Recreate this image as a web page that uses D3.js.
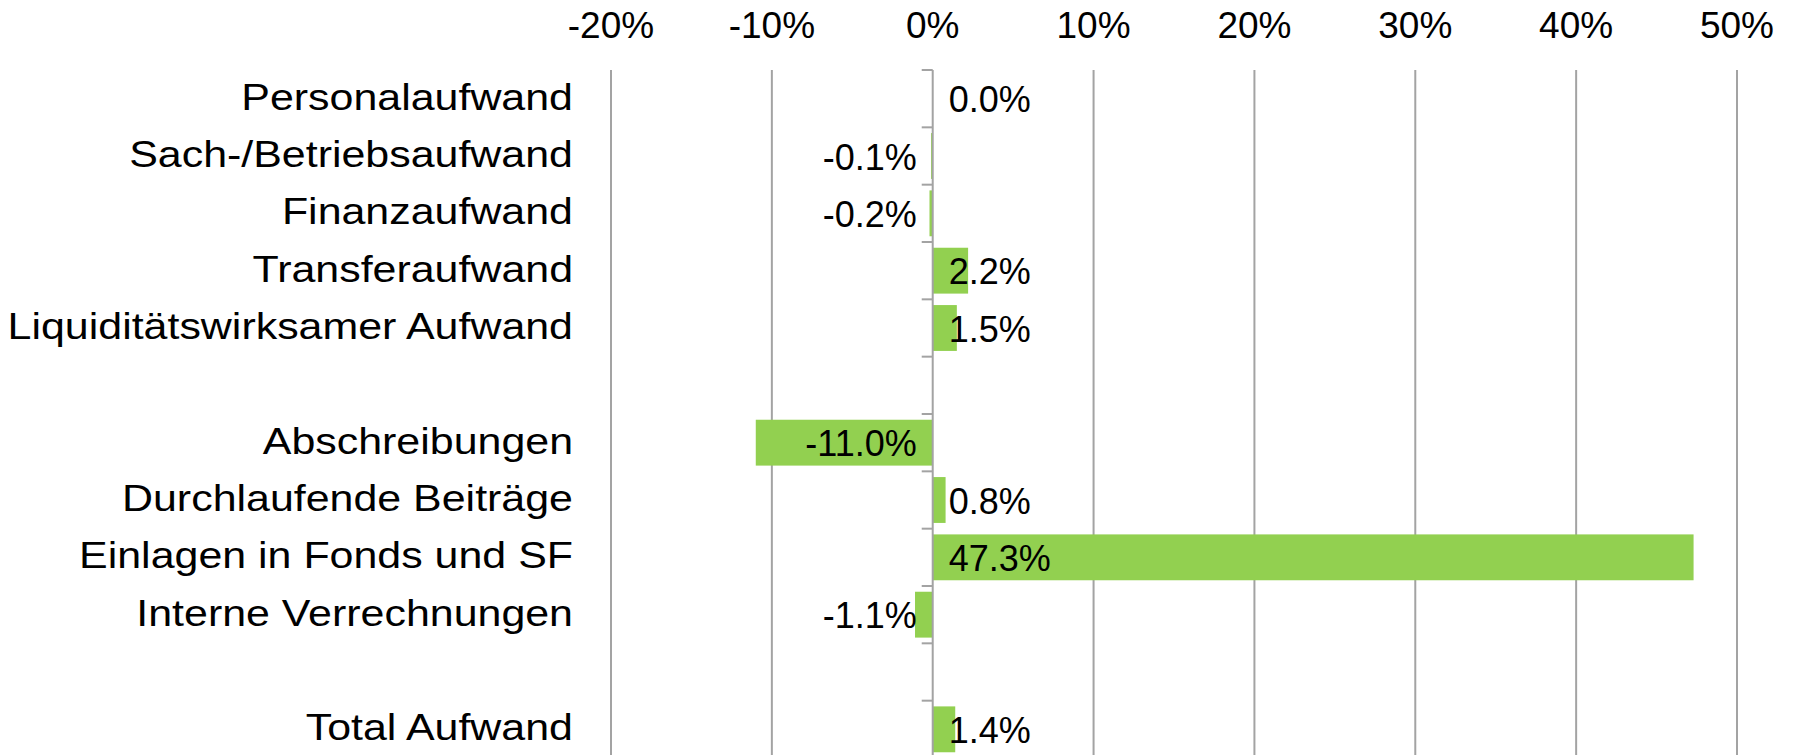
<!DOCTYPE html>
<html>
<head>
<meta charset="utf-8">
<script src="https://cdn.jsdelivr.net/npm/d3@7"></script>
<style>
  body { margin: 0; background: #ffffff; }
  svg { display: block; }
  text { font-family: "Liberation Sans", Arial, sans-serif; fill: #000000; }
</style>
</head>
<body>
<div id="chart"></div>
<script>
// categories (empty strings are the gaps between groups)
const categories = [
  "Personalaufwand",
  "Sach-/Betriebsaufwand",
  "Finanzaufwand",
  "Transferaufwand",
  "Liquiditätswirksamer Aufwand",
  "",
  "Abschreibungen",
  "Durchlaufende Beiträge",
  "Einlagen in Fonds und SF",
  "Interne Verrechnungen",
  "",
  "Total Aufwand"
];

// change in percent, null for the gaps
const values = [0.0, -0.1, -0.2, 2.2, 1.5, null, -11.0, 0.8, 47.3, -1.1, null, 1.4];

const xTicks = [-20, -10, 0, 10, 20, 30, 40, 50];

const width = 1794;
const height = 755;

const svg = d3
  .select("#chart")
  .append("svg")
  .attr("width", width)
  .attr("height", height);

const x = d3.scaleLinear().domain([-20, 50]).range([611, 1737]);

const y = d3
  .scaleBand()
  .domain(d3.range(categories.length))
  .range([70, 758])
  .paddingInner(0.2)
  .paddingOuter(0.1);

const step = y.step();
const plotTop = y.range()[0];
const plotBottom = y.range()[1];

// vertical gridlines
svg
  .append("g")
  .selectAll("line")
  .data(xTicks.filter((d) => d !== 0))
  .enter()
  .append("line")
  .attr("x1", (d) => x(d))
  .attr("x2", (d) => x(d))
  .attr("y1", plotTop)
  .attr("y2", plotBottom)
  .attr("stroke", "#a3a3a3")
  .attr("stroke-width", 2);

// tick labels on top
svg
  .append("g")
  .selectAll("text")
  .data(xTicks)
  .enter()
  .append("text")
  .attr("x", (d) => x(d))
  .attr("y", 38)
  .attr("text-anchor", "middle")
  .style("font-size", "37px")
  .text((d) => d + "%");

// bars
const rows = values
  .map((v, i) => ({ i: i, v: v }))
  .filter((d) => d.v !== null);

svg
  .append("g")
  .selectAll("rect")
  .data(rows)
  .enter()
  .append("rect")
  .attr("x", (d) => x(Math.min(0, d.v)))
  .attr("width", (d) => Math.abs(x(d.v) - x(0)))
  .attr("y", (d) => y(d.i))
  .attr("height", y.bandwidth())
  .attr("fill", "#92d050");

// category axis at 0 with tick marks between the bands
const axis = svg.append("g");

axis
  .append("line")
  .attr("x1", x(0))
  .attr("x2", x(0))
  .attr("y1", plotTop)
  .attr("y2", plotBottom)
  .attr("stroke", "#a3a3a3")
  .attr("stroke-width", 2);

axis
  .selectAll(".tick")
  .data(d3.range(categories.length + 1))
  .enter()
  .append("line")
  .attr("x1", x(0) - 11)
  .attr("x2", x(0))
  .attr("y1", (d) => plotTop + d * step)
  .attr("y2", (d) => plotTop + d * step)
  .attr("stroke", "#a3a3a3")
  .attr("stroke-width", 2);

// category labels (the original font runs a bit wide)
svg
  .append("g")
  .selectAll("text")
  .data(categories.map((c, i) => ({ c: c, i: i })).filter((d) => d.c !== ""))
  .enter()
  .append("text")
  .attr("transform", (d) => `translate(573, ${y(d.i) + y.bandwidth() / 2 + 11}) scale(1.145, 1)`)
  .attr("text-anchor", "end")
  .style("font-size", "37.5px")
  .text((d) => d.c);

// value labels at the inside base of each bar
svg
  .append("g")
  .selectAll("text")
  .data(rows)
  .enter()
  .append("text")
  .attr("x", (d) => (d.v < 0 ? x(0) - 16 : x(0) + 16))
  .attr("y", (d) => y(d.i) + y.bandwidth() / 2 + 13.5)
  .attr("text-anchor", (d) => (d.v < 0 ? "end" : "start"))
  .style("font-size", "36px")
  .text((d) => d.v.toFixed(1) + "%");
</script>
</body>
</html>
